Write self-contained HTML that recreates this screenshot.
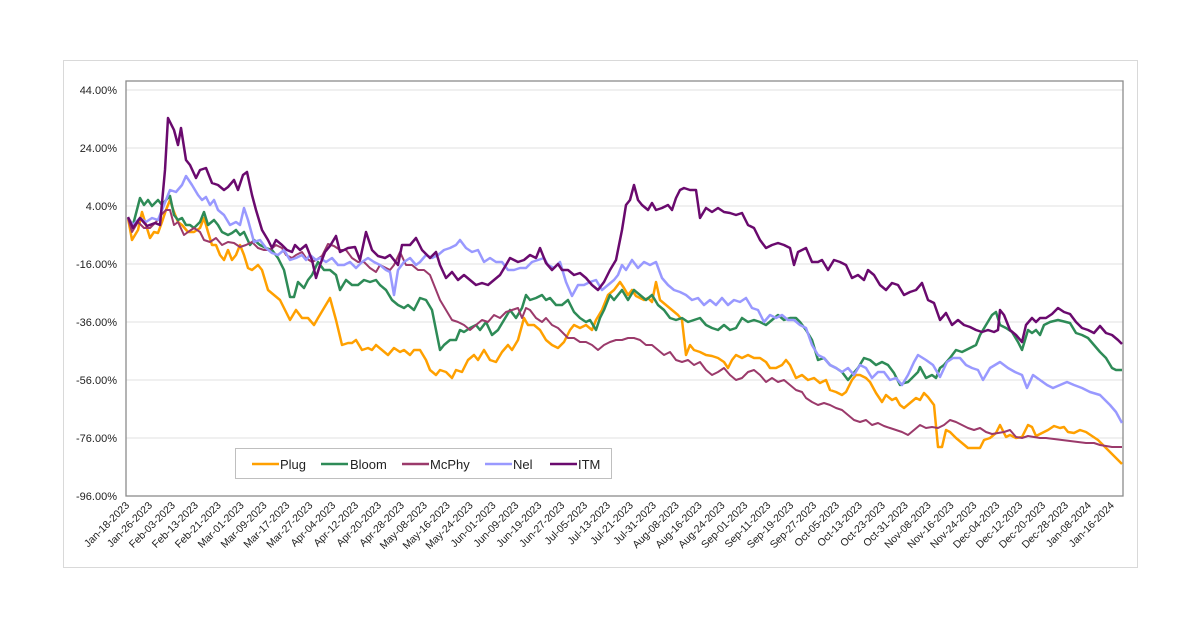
<!DOCTYPE html>
<html><head><meta charset="utf-8"><style>
html,body{margin:0;padding:0;background:#fff;}
svg{display:block;font-family:"Liberation Sans",Arial,sans-serif;}
</style></head><body>
<svg width="1200" height="627" viewBox="0 0 1200 627" xmlns="http://www.w3.org/2000/svg">
<rect x="63.5" y="60.5" width="1074" height="507" fill="#fff" stroke="#d9d9d9"/>
<g stroke="#e0e0e0" stroke-width="1">
<line x1="126" y1="90" x2="1123" y2="90"/><line x1="126" y1="148" x2="1123" y2="148"/>
<line x1="126" y1="206" x2="1123" y2="206"/><line x1="126" y1="264" x2="1123" y2="264"/>
<line x1="126" y1="322" x2="1123" y2="322"/><line x1="126" y1="380" x2="1123" y2="380"/>
<line x1="126" y1="438" x2="1123" y2="438"/>
</g>
<rect x="126" y="81" width="997" height="415" fill="none" stroke="#8c8c8c" stroke-width="1.3"/>
<g font-size="11" fill="#222" text-anchor="end">
<text x="117" y="94">44.00%</text><text x="117" y="152">24.00%</text><text x="117" y="210">4.00%</text>
<text x="117" y="268">-16.00%</text><text x="117" y="326">-36.00%</text><text x="117" y="384">-56.00%</text>
<text x="117" y="442">-76.00%</text><text x="117" y="500">-96.00%</text>
</g>
<g id="xl" font-size="10.5" fill="#222" text-anchor="end"></g>
<g fill="none" stroke-width="2.5" stroke-linejoin="round">
<polyline stroke="#ffa000" points="128,218 132,240 138,230 142,212 146,225 150,238 154,232 158,233 162,222 166,210 170,200 174,212 178,222 182,225 188,232 194,232 200,228 204,218 208,232 212,245 216,245 220,255 224,260 228,250 232,260 236,255 240,245 244,255 248,268 252,270 258,265 262,270 268,290 274,295 280,300 286,312 290,320 296,310 302,318 308,318 314,325 318,318 324,308 330,298 336,320 342,345 348,343 352,343 356,340 362,350 368,348 372,350 376,345 382,350 388,355 394,348 400,352 404,350 410,355 414,350 420,350 426,360 430,370 436,375 440,370 446,372 452,378 456,370 462,372 468,360 474,355 478,360 484,350 490,360 496,362 502,352 508,345 512,350 518,340 524,318 528,325 534,325 540,330 546,340 552,345 558,348 564,342 570,330 574,325 580,328 586,325 592,330 596,320 602,310 608,295 614,290 620,282 624,288 628,295 632,290 636,296 640,298 644,300 648,298 652,302 656,282 660,300 666,305 672,310 678,315 682,320 686,355 690,345 694,350 700,352 706,355 712,356 718,358 724,362 728,368 732,360 736,355 742,358 748,355 754,358 760,358 766,362 770,368 776,368 782,365 786,360 790,365 796,378 802,375 808,380 814,378 820,383 826,380 830,390 836,392 842,395 846,392 852,380 856,375 860,375 866,378 870,382 876,393 882,402 886,395 892,400 896,398 900,405 904,408 910,403 916,398 920,400 924,393 928,397 934,405 938,447 942,447 946,430 950,432 956,438 962,443 968,448 974,448 980,448 984,440 990,438 996,433 1000,425 1006,437 1010,435 1016,438 1022,437 1028,425 1032,427 1036,436 1042,433 1048,430 1054,426 1060,428 1064,427 1068,432 1074,433 1080,430 1086,432 1092,436 1098,440 1104,446 1110,452 1116,458 1122,464"/>
<polyline stroke="#2e8b57" points="128,218 133,225 140,198 144,205 148,200 152,206 158,200 162,205 166,200 170,196 174,215 178,220 182,218 186,225 190,225 194,228 200,222 204,212 208,225 214,220 218,225 222,232 228,235 232,233 236,230 240,235 244,232 250,245 254,240 260,245 266,248 272,250 278,258 284,270 290,297 294,297 298,282 304,288 308,280 312,275 318,262 324,270 330,270 336,275 340,290 346,280 352,285 358,285 364,280 370,282 376,280 380,285 386,290 392,300 398,305 404,308 408,305 414,310 420,298 426,300 432,310 436,330 440,350 444,345 450,340 456,340 460,330 464,332 470,328 476,325 480,330 486,322 492,335 498,330 504,320 510,310 516,318 522,308 526,295 530,300 536,298 542,295 546,300 550,298 556,305 562,305 568,300 574,312 580,318 586,322 590,320 596,330 600,318 604,310 610,295 614,300 618,295 622,290 628,300 634,290 640,295 646,300 652,295 658,305 664,310 670,318 676,320 682,318 688,322 694,320 700,318 706,325 712,328 718,330 724,325 730,330 736,328 742,318 748,322 754,320 760,322 766,325 772,320 778,315 784,320 790,318 796,318 800,322 806,330 812,340 818,360 824,358 830,365 836,368 842,372 848,380 852,375 858,368 864,358 870,360 876,365 882,362 888,365 894,373 900,385 904,383 908,382 912,378 918,372 920,367 926,378 932,375 936,378 940,368 944,365 950,358 956,350 962,352 966,350 970,348 976,345 980,335 986,325 992,315 996,312 1000,325 1006,328 1012,332 1018,342 1022,350 1028,330 1032,333 1036,330 1040,335 1044,325 1050,322 1058,320 1066,322 1070,323 1076,333 1082,335 1088,338 1094,345 1100,352 1106,358 1112,368 1116,370 1122,370"/>
<polyline stroke="#9b3a6b" stroke-width="2" points="128,218 132,232 138,222 144,228 150,228 156,222 162,214 166,210 170,210 174,225 178,222 184,235 188,232 194,228 200,232 204,240 210,242 216,238 222,245 228,242 234,243 240,247 246,245 252,242 258,248 264,250 270,250 276,245 282,248 286,255 292,258 296,255 302,252 306,258 312,262 316,260 322,256 328,244 334,246 340,250 346,250 352,258 358,262 364,262 370,268 376,272 380,265 386,268 390,270 394,265 400,252 406,265 412,265 418,270 424,270 430,275 434,285 440,300 446,310 452,320 458,322 464,325 470,330 476,325 482,320 488,322 494,315 500,318 506,312 512,310 518,308 522,318 526,308 530,310 536,318 542,322 546,318 552,325 558,328 562,332 568,338 574,338 580,342 586,342 592,345 598,350 604,345 610,342 616,340 622,340 628,338 634,338 640,340 646,345 652,345 658,350 664,355 670,352 676,360 682,362 688,360 694,365 700,362 706,370 712,375 718,372 724,368 730,375 736,380 742,378 748,372 754,370 760,375 766,382 772,378 778,382 784,380 790,385 796,390 802,392 806,398 812,402 818,405 824,403 830,405 836,408 842,410 848,415 854,420 860,422 866,420 872,425 878,423 884,426 890,428 896,430 902,432 908,435 914,430 920,425 926,428 932,427 938,428 944,425 950,420 956,422 962,425 968,428 974,430 980,428 986,432 992,434 998,433 1004,432 1010,430 1016,437 1022,438 1028,436 1034,437 1040,438 1046,438 1054,439 1062,440 1070,441 1078,442 1086,443 1094,443 1100,445 1106,446 1112,447 1122,447"/>
<polyline stroke="#9999ff" points="128,218 133,225 140,218 146,222 152,218 158,220 164,205 170,190 176,192 182,185 186,176 192,185 198,195 202,200 206,197 210,205 214,200 218,210 224,215 230,225 236,222 240,225 244,208 248,220 254,242 260,240 266,248 272,253 278,255 284,250 290,260 296,258 302,255 306,260 310,255 316,260 320,258 326,262 332,258 338,265 344,265 350,262 356,268 362,262 368,258 374,262 380,265 386,270 390,272 394,295 398,270 404,262 410,258 416,265 420,262 426,255 432,258 438,255 444,250 450,248 456,245 460,240 466,248 472,252 478,250 484,262 490,258 496,262 502,262 508,270 514,270 520,268 526,268 532,262 538,260 544,258 548,265 554,268 560,262 566,282 572,296 578,285 584,285 590,282 596,280 602,290 608,285 614,280 618,275 622,265 626,270 632,260 638,268 644,262 650,265 656,262 662,278 668,285 674,290 680,292 686,295 692,300 698,298 704,305 710,300 716,305 722,298 728,305 734,300 740,302 746,298 752,308 758,310 764,322 770,315 776,318 782,315 788,320 794,320 800,325 806,328 812,345 818,355 824,358 830,365 836,368 842,372 848,368 854,375 860,365 866,368 872,378 878,372 884,372 890,380 896,378 902,385 908,375 914,362 918,355 926,360 933,365 940,377 947,362 953,358 960,358 966,365 972,368 978,370 983,380 990,368 1000,362 1008,368 1015,372 1022,375 1027,388 1033,375 1040,380 1047,385 1053,388 1060,385 1067,382 1074,385 1082,388 1090,392 1100,395 1110,405 1116,412 1122,423"/>
<polyline stroke="#6a0a6e" points="128,217 133,228 140,218 147,226 155,223 160,225 165,170 168,118 174,130 178,145 181,128 186,160 190,165 196,178 200,170 206,168 212,183 218,185 224,190 228,187 234,180 238,190 243,175 247,172 252,195 256,210 262,230 268,240 272,248 276,240 282,245 287,250 292,252 295,245 300,250 306,245 312,260 316,278 320,265 325,252 330,246 336,236 340,252 348,248 355,247 360,260 366,232 372,250 378,256 385,258 390,255 398,265 402,245 410,245 416,238 422,250 430,258 436,252 440,265 446,278 452,272 458,280 464,275 470,280 476,285 482,283 488,285 494,280 500,275 506,265 510,258 518,262 524,260 530,255 536,258 540,248 546,263 552,270 558,264 562,270 568,270 574,275 580,273 586,278 592,285 598,290 604,282 610,270 616,260 622,230 626,205 630,200 634,185 638,200 642,205 648,210 652,203 656,210 662,208 668,205 672,210 676,198 680,190 684,188 690,190 696,190 700,218 706,208 712,212 718,208 724,212 730,213 736,215 742,213 748,225 754,228 760,240 766,248 772,245 778,243 784,245 790,248 794,265 798,252 806,248 812,262 818,262 822,260 828,270 834,260 840,262 846,265 852,278 858,275 864,280 868,270 874,275 880,285 886,290 892,283 898,285 904,295 910,292 916,290 922,283 928,300 934,303 940,320 946,313 952,325 958,320 964,325 970,327 976,330 982,332 988,330 994,332 998,330 1000,310 1004,315 1010,330 1016,335 1022,342 1026,325 1032,318 1036,322 1040,318 1046,318 1052,314 1058,308 1064,312 1070,314 1076,322 1082,328 1088,330 1094,333 1100,326 1106,333 1112,335 1118,340 1122,344"/>
</g>
<rect x="235.5" y="448.5" width="376" height="30" fill="#fff" stroke="#bfbfbf"/>
<g stroke-width="2.5">
<line x1="252" y1="464" x2="279" y2="464" stroke="#ffa000"/>
<line x1="321" y1="464" x2="348" y2="464" stroke="#2e8b57"/>
<line x1="402" y1="464" x2="429" y2="464" stroke="#9b3a6b"/>
<line x1="485" y1="464" x2="512" y2="464" stroke="#9999ff"/>
<line x1="550" y1="464" x2="577" y2="464" stroke="#6a0a6e"/>
</g>
<g font-size="13" fill="#222">
<text x="280" y="469">Plug</text><text x="350" y="469">Bloom</text><text x="430" y="469">McPhy</text>
<text x="513" y="469">Nel</text><text x="578" y="469">ITM</text>
</g>
</svg>
<script>
var L=["Jan-18-2023","Jan-26-2023","Feb-03-2023","Feb-13-2023","Feb-21-2023","Mar-01-2023","Mar-09-2023","Mar-17-2023","Mar-27-2023","Apr-04-2023","Apr-12-2023","Apr-20-2023","Apr-28-2023","May-08-2023","May-16-2023","May-24-2023","Jun-01-2023","Jun-09-2023","Jun-19-2023","Jun-27-2023","Jul-05-2023","Jul-13-2023","Jul-21-2023","Jul-31-2023","Aug-08-2023","Aug-16-2023","Aug-24-2023","Sep-01-2023","Sep-11-2023","Sep-19-2023","Sep-27-2023","Oct-05-2023","Oct-13-2023","Oct-23-2023","Oct-31-2023","Nov-08-2023","Nov-16-2023","Nov-24-2023","Dec-04-2023","Dec-12-2023","Dec-20-2023","Dec-28-2023","Jan-08-2024","Jan-16-2024"];
var g=document.getElementById("xl"),s="";
for(var i=0;i<L.length;i++){var x=130+i*22.9;s+='<text transform="translate('+x.toFixed(1)+',506) rotate(-45)">'+L[i]+'</text>';}
g.innerHTML=s;
</script>
</body></html>
